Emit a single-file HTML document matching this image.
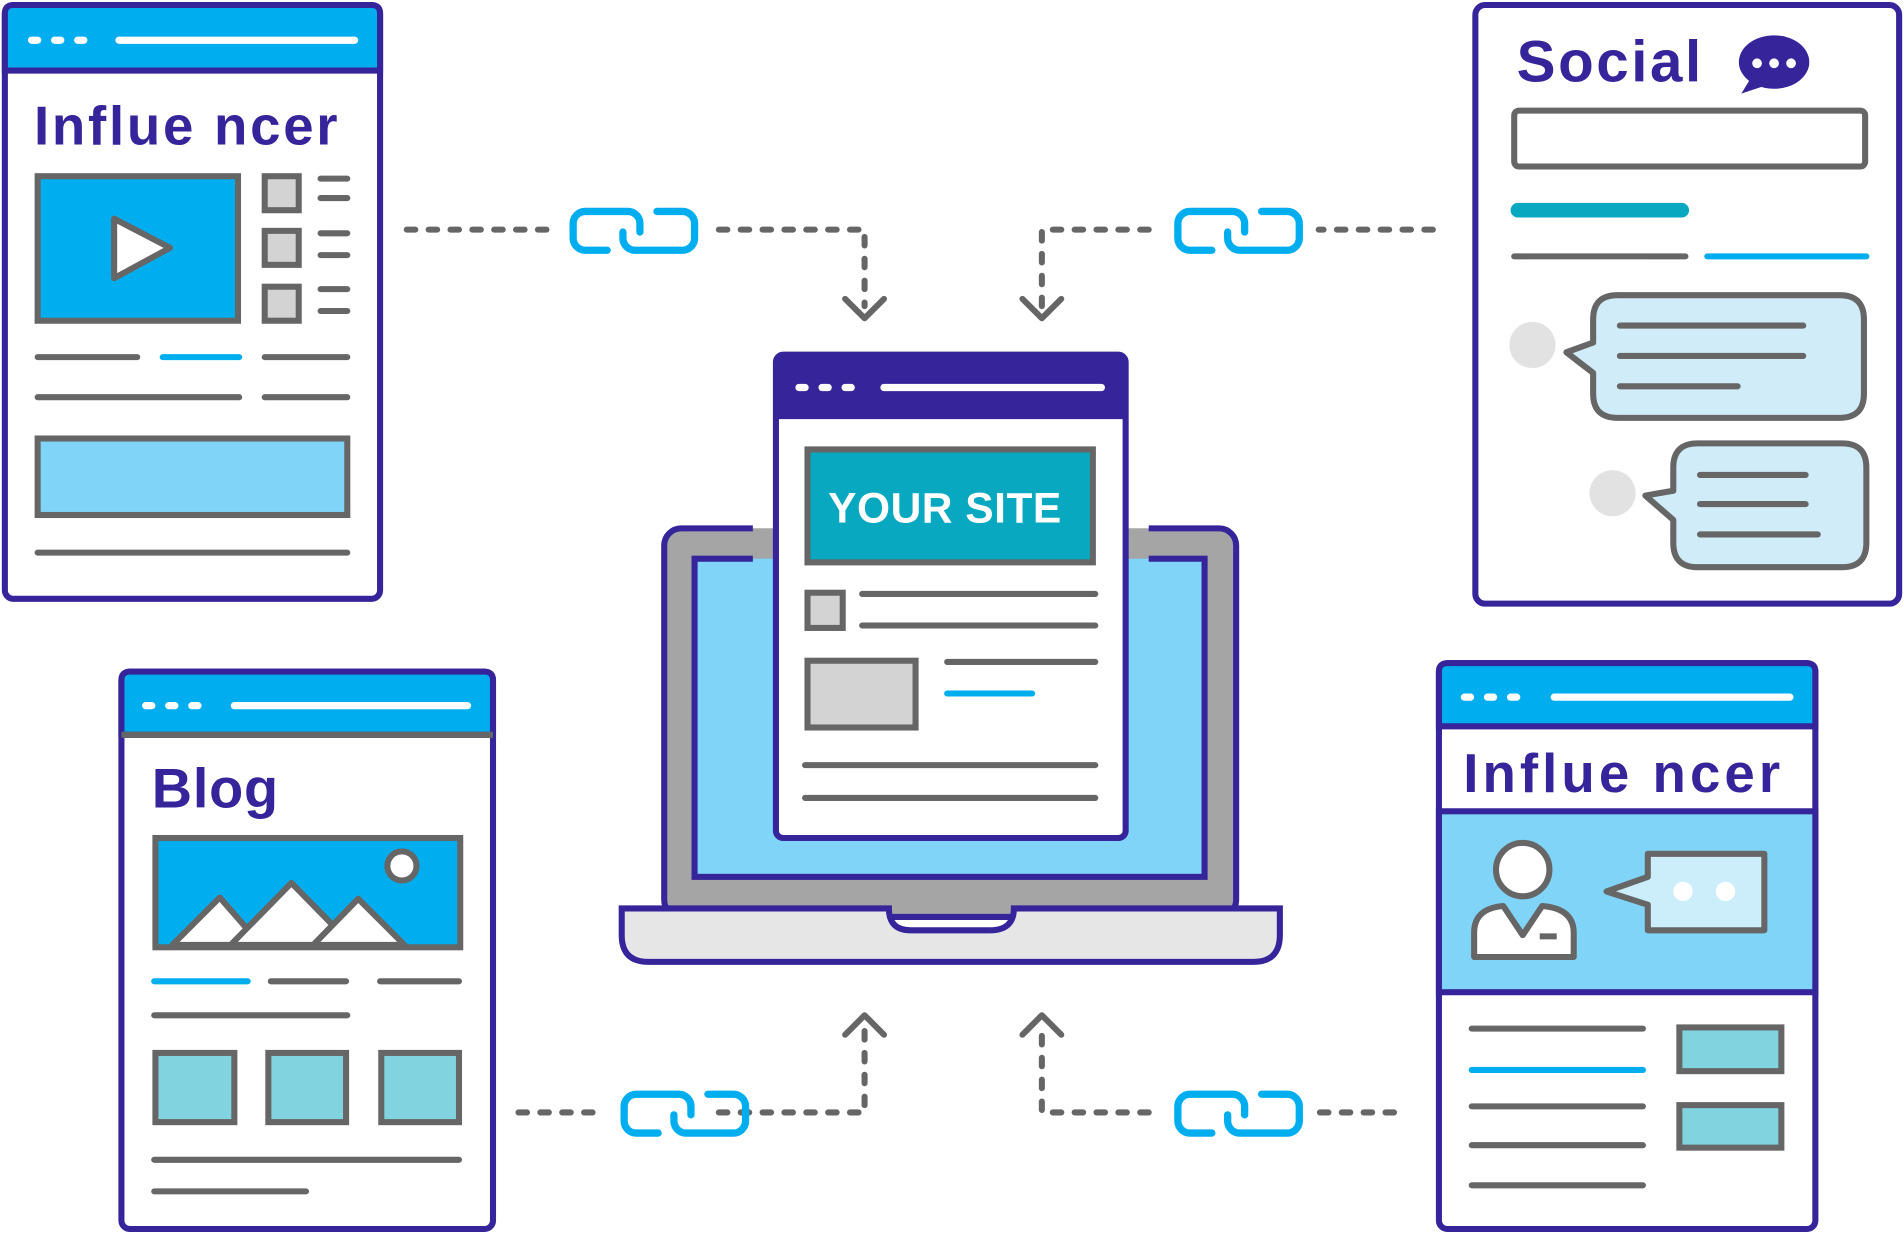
<!DOCTYPE html>
<html><head><meta charset="utf-8"><style>
html,body{margin:0;padding:0;background:#fff;}
svg{display:block;}
text{font-family:"Liberation Sans",sans-serif;font-weight:bold;}
</style></head><body>
<svg width="1904" height="1234" viewBox="0 0 1568 1016" xmlns="http://www.w3.org/2000/svg">
<defs>
<g id="link" fill="none" stroke="#00aeef" stroke-width="6" stroke-linecap="round">
<path d="M500 206 H482 a10 10 0 0 1 -10 -10 V184 a10 10 0 0 1 10 -10 H517 a10 10 0 0 1 10 10 V191"/>
<path d="M513 191 V196 a10 10 0 0 0 10 10 H562 a10 10 0 0 0 10 -10 V184 a10 10 0 0 0 -10 -10 H541"/>
</g>
</defs>
<g fill="none" stroke="#666" stroke-width="5" stroke-linecap="round" stroke-linejoin="round">
<g stroke-dasharray="7 11">
<path d="M335 189 H452"/><path d="M592 189 H712 V252"/>
<path d="M1180 189 H1086"/><path d="M946 189 H858 V252"/>
<path d="M427 916 H490"/><path d="M592 916 H712 V846"/>
<path d="M1148 916 H1086"/><path d="M946 916 H858 V846"/>
</g>
<path d="M696 246 L712 262 L728 246"/><path d="M842 246 L858 262 L874 246"/>
<path d="M696 852 L712 836 L728 852"/><path d="M842 852 L858 836 L874 852"/>
</g>
<use href="#link"/>
<use href="#link" transform="translate(498,0)"/>
<use href="#link" transform="translate(42,727)"/>
<use href="#link" transform="translate(498,727)"/>

<!-- Laptop -->
<rect x="547" y="435" width="471" height="320" rx="14" fill="#a5a5a5" stroke="#35249a" stroke-width="5"/>
<rect x="572" y="460" width="420" height="262" fill="#80d4f7" stroke="#35249a" stroke-width="5"/>
<path d="M512 748 H732 Q732 766 750 766 H815 Q835 766 835 748 H1054 V770 Q1054 792 1032 792 H534 Q512 792 512 770 Z" fill="#e6e6e6" stroke="#35249a" stroke-width="5"/>
<!-- page -->
<path d="M620 433.5 H639 M927 433.5 H946" stroke="#fff" stroke-width="3.2"/>
<path d="M620 436.5 H639 M927 436.5 H946" stroke="#a5a5a5" stroke-width="3.2"/>
<path d="M620 458.5 H639 M927 458.5 H946" stroke="#a5a5a5" stroke-width="3.2"/>
<path d="M620 461.5 H639 M927 461.5 H946" stroke="#80d4f7" stroke-width="3.2"/>
<rect x="639" y="292" width="288" height="398" rx="6" fill="#fff" stroke="#35249a" stroke-width="5"/>
<path d="M639 345 V298 Q639 292 645 292 H921 Q927 292 927 298 V345 Z" fill="#35249a"/>
<g stroke="#fff" stroke-width="6" stroke-linecap="round"><path d="M658 319 H663 M677 319 H682 M696 319 H701 M728 319 H907"/></g>
<rect x="665" y="370" width="235" height="93" fill="#07a8c0" stroke="#666" stroke-width="5"/>
<text x="682" y="430" font-size="35" fill="#fff" textLength="192">YOUR SITE</text>
<rect x="665" y="488" width="29" height="29" fill="#d3d3d3" stroke="#666" stroke-width="5"/>
<rect x="665" y="544" width="89" height="55" fill="#d3d3d3" stroke="#666" stroke-width="5"/>
<g stroke="#666" stroke-width="5" stroke-linecap="round">
<path d="M710 489 H902 M710 515 H902 M780 545 H902 M663 630 H902 M663 657 H902"/>
</g>
<path d="M780 571 H850" stroke="#00aeef" stroke-width="5" stroke-linecap="round"/>

<!-- Top-left influencer -->
<rect x="4" y="4" width="309" height="489" rx="7" fill="#fff" stroke="#35249a" stroke-width="5"/>
<path d="M4 58 V11 Q4 4 11 4 H306 Q313 4 313 11 V58 Z" fill="#00aeef" stroke="#35249a" stroke-width="5"/>
<g stroke="#fff" stroke-width="6" stroke-linecap="round"><path d="M26 33 H31 M45 33 H50 M64 33 H69 M98 33 H292"/></g>
<text x="28" y="119" font-size="45" fill="#35249a" textLength="250" lengthAdjust="spacing">Influe ncer</text>
<rect x="31" y="145" width="165" height="119" fill="#00aeef" stroke="#666" stroke-width="5"/>
<path d="M94 180 L140 204 L94 229 Z" fill="#fff" stroke="#666" stroke-width="5" stroke-linejoin="round"/>
<g fill="#d3d3d3" stroke="#666" stroke-width="5"><rect x="218" y="145" width="28" height="28"/><rect x="218" y="190" width="28" height="28"/><rect x="218" y="236" width="28" height="28"/></g>
<g stroke="#666" stroke-width="5" stroke-linecap="round">
<path d="M264 147 H286 M264 163 H286 M264 192 H286 M264 210 H286 M264 238 H286 M264 256 H286 M31 294 H113 M218 294 H286 M31 327 H197 M218 327 H286 M31 455 H286"/>
</g>
<path d="M134 294 H197" stroke="#00aeef" stroke-width="5" stroke-linecap="round"/>
<rect x="31" y="361" width="255" height="63" fill="#80d4f7" stroke="#666" stroke-width="5"/>

<!-- Social -->
<rect x="1215" y="4" width="349" height="493" rx="8" fill="#fff" stroke="#35249a" stroke-width="5"/>
<text x="1249" y="67" font-size="48" fill="#35249a" textLength="152" lengthAdjust="spacing">Social</text>
<ellipse cx="1461" cy="51" rx="29" ry="22" fill="#35249a"/>
<path d="M1442 64 L1434 77 L1455 70 Z" fill="#35249a"/>
<g fill="#fff"><circle cx="1447" cy="52" r="4"/><circle cx="1461" cy="52" r="4"/><circle cx="1475" cy="52" r="4"/></g>
<rect x="1247" y="91" width="289" height="46" rx="4" fill="#fff" stroke="#666" stroke-width="5"/>
<path d="M1250 173 H1385" stroke="#07a8c0" stroke-width="12" stroke-linecap="round"/>
<path d="M1247 211 H1388" stroke="#666" stroke-width="5" stroke-linecap="round"/>
<path d="M1406 211 H1537" stroke="#00aeef" stroke-width="5" stroke-linecap="round"/>
<circle cx="1262" cy="284" r="19" fill="#e2e2e2"/><circle cx="1328" cy="406" r="19" fill="#e2e2e2"/>
<path d="M1332 243 H1515 Q1535 243 1535 263 V324 Q1535 344 1515 344 H1332 Q1312 344 1312 324 V307 L1290 290 L1312 282 V263 Q1312 243 1332 243 Z" fill="#d0ecf8" stroke="#666" stroke-width="5" stroke-linejoin="round"/>
<path d="M1398 365 H1517 Q1537 365 1537 385 V447 Q1537 467 1517 467 H1398 Q1378 467 1378 447 V428 L1355 408 L1378 404 V385 Q1378 365 1398 365 Z" fill="#d0ecf8" stroke="#666" stroke-width="5" stroke-linejoin="round"/>
<g stroke="#666" stroke-width="5" stroke-linecap="round">
<path d="M1334 268 H1485 M1334 293 H1485 M1334 318 H1431 M1400 391 H1487 M1400 415 H1487 M1400 440 H1497"/>
</g>

<!-- Blog -->
<rect x="100" y="553" width="306" height="459" rx="7" fill="#fff" stroke="#35249a" stroke-width="5"/>
<path d="M100 605 V560 Q100 553 107 553 H399 Q406 553 406 560 V605 Z" fill="#00aeef" stroke="#35249a" stroke-width="5"/>
<path d="M100 605 H406" stroke="#666" stroke-width="5"/>
<g stroke="#fff" stroke-width="6" stroke-linecap="round"><path d="M120 581 H125 M139 581 H144 M158 581 H163 M193 581 H385"/></g>
<text x="125" y="665" font-size="46" fill="#35249a" textLength="104" lengthAdjust="spacing">Blog</text>
<rect x="128" y="690" width="251" height="90" fill="#00aeef" stroke="#666" stroke-width="5"/>
<g fill="#fff" stroke="#666" stroke-width="5" stroke-linejoin="round">
<path d="M142 778 L181 739 L215 778 Z"/><path d="M190 778 L240 727 L290 778 Z"/><path d="M258 778 L295 740 L333 778 Z"/>
<circle cx="331" cy="713" r="12"/>
</g>
<path d="M127 808 H204" stroke="#00aeef" stroke-width="5" stroke-linecap="round"/>
<g stroke="#666" stroke-width="5" stroke-linecap="round"><path d="M223 808 H285 M313 808 H378 M127 836 H286 M127 955 H378 M127 981 H252"/></g>
<g fill="#82d3e0" stroke="#666" stroke-width="5"><rect x="128" y="867" width="65" height="57"/><rect x="221" y="867" width="64" height="57"/><rect x="314" y="867" width="64" height="57"/></g>

<!-- Bottom-right influencer -->
<rect x="1185" y="546" width="310" height="466" rx="7" fill="#fff" stroke="#35249a" stroke-width="5"/>
<path d="M1185 598 V553 Q1185 546 1192 546 H1488 Q1495 546 1495 553 V598 Z" fill="#00aeef" stroke="#35249a" stroke-width="5"/>
<g stroke="#fff" stroke-width="6" stroke-linecap="round"><path d="M1206 574 H1211 M1225 574 H1230 M1244 574 H1249 M1280 574 H1474"/></g>
<text x="1205" y="652" font-size="45" fill="#35249a" textLength="261" lengthAdjust="spacing">Influe ncer</text>
<rect x="1185" y="668" width="310" height="149" fill="#80d4f7" stroke="#35249a" stroke-width="5"/>
<g fill="#fff" stroke="#666" stroke-width="5" stroke-linejoin="round">
<circle cx="1254" cy="716" r="22"/>
<path d="M1214 788 V768 Q1214 748 1238 746 L1254 770 L1270 746 Q1296 748 1296 768 V788 Z"/>
<path d="M1357 703 H1453 V766 H1357 V745 L1323 734 L1357 722 Z" fill="#cbeefa"/>
</g>
<path d="M1268 771 H1282" stroke="#666" stroke-width="5"/>
<g fill="#fff"><circle cx="1386" cy="734" r="8"/><circle cx="1421" cy="734" r="8"/></g>
<g stroke="#666" stroke-width="5" stroke-linecap="round"><path d="M1212 847 H1353 M1212 911 H1353 M1212 943 H1353 M1212 976 H1353"/></g>
<path d="M1212 881 H1353" stroke="#00aeef" stroke-width="5" stroke-linecap="round"/>
<g fill="#82d3e0" stroke="#666" stroke-width="5"><rect x="1383" y="846" width="84" height="36"/><rect x="1383" y="910" width="84" height="35"/></g>
</svg>
</body></html>
